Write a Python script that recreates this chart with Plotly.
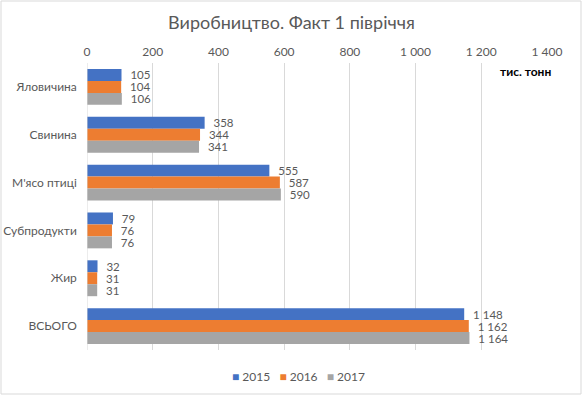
import plotly.graph_objects as go

categories = ["Яловичина", "Свинина", "М'ясо птиці", "Субпродукти", "Жир", "ВСЬОГО"]
years = ["2015", "2016", "2017"]
v2015 = [105, 358, 555, 79, 32, 1148]
v2016 = [104, 344, 587, 76, 31, 1162]
v2017 = [106, 341, 590, 76, 31, 1164]
colors = ["#4472C4", "#ED7D31", "#A5A5A5"]

def fmt(v):
    return "\u00a0\u00a0" + f"{v:,}".replace(",", " ")

fig = go.Figure()
for name, vals, c in zip(years, [v2015, v2016, v2017], colors):
    fig.add_trace(go.Bar(
        y=categories, x=vals, name=name, orientation="h",
        marker=dict(color=c, line=dict(width=0)),
        text=[fmt(v) for v in vals], textposition="outside",
        constraintext="none",
        textfont=dict(color="#595959", size=11.5), cliponaxis=False,
        showlegend=False, hoverinfo="skip",
    ))

L, R, T, B = 87, 547, 63, 350
W, H = R - L, B - T

fig.update_layout(
    width=583, height=396,
    margin=dict(l=L, r=583 - R, t=T, b=396 - B, autoexpand=False),
    barmode="group", bargap=0.25, bargroupgap=0,
    separators=", ",
    font=dict(family="Lato, Open Sans, sans-serif", color="#595959"),
    paper_bgcolor="white", plot_bgcolor="white",
    title=dict(text="Виробництво. Факт 1 півріччя", x=0.5, xanchor="center",
               y=1 - 23 / 396, yanchor="middle",
               font=dict(size=18, color="#595959")),
    xaxis=dict(side="top", range=[0, 1400], dtick=200, tickformat=",d",
               showgrid=True, gridcolor="#D9D9D9", gridwidth=1, zeroline=False,
               showline=False, ticks="", automargin=False, ticklabelstandoff=4,
               tickfont=dict(size=12, color="#595959")),
    yaxis=dict(autorange="reversed", ticks="", showline=False, automargin=False,
               tickfont=dict(size=12, color="#595959"), ticksuffix="   "),
    showlegend=False,
)

# legend drawn as a single annotation with coloured squares
legend_text = "   ".join(
    f"<span style='color:{c}'>■</span> {y}" for y, c in zip(years, colors)
)
fig.add_annotation(text=legend_text, xref="paper", yref="paper",
                   x=(298 - L) / W, xanchor="center", y=-(377 - B) / H, yanchor="middle",
                   showarrow=False, font=dict(size=12, color="#595959"))

fig.add_shape(type="line", xref="x", yref="paper", x0=0, x1=0, y0=0, y1=1,
              line=dict(color="#D9D9D9", width=1))
fig.add_annotation(text="<b>тис. тонн</b>", xref="paper", yref="paper",
                   x=(553 - L) / W, xanchor="right", y=(B - 72) / H, yanchor="middle",
                   showarrow=False, font=dict(size=12, color="#000000"))
fig.add_shape(type="rect", xref="paper", yref="paper",
              x0=(1 - L) / W, x1=(581 - L) / W, y0=(B - 394) / H, y1=(B - 1) / H,
              line=dict(color="#D9D9D9", width=1), fillcolor="rgba(0,0,0,0)")

fig.write_html("out.html", config={"displayModeBar": False},
               post_script="document.body.style.margin='0';")
